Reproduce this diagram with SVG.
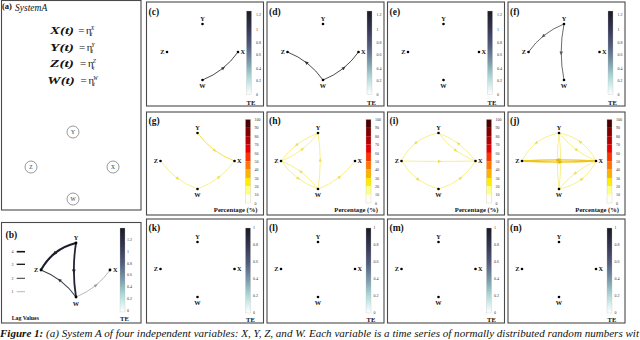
<svg xmlns="http://www.w3.org/2000/svg" xmlns:xlink="http://www.w3.org/1999/xlink" width="640" height="340" viewBox="0 0 640 340">
<style>
text{font-family:"Liberation Serif","Times New Roman",serif;fill:#111}
.frame{fill:#fff;stroke:#4a4a4a;stroke-width:1.1}
.pl{font-weight:bold;font-size:9.5px}
.nl{font-weight:bold;font-size:6.3px}
.tk{font-size:4px;fill:#333}
.te{font-weight:bold;font-size:6.6px}
.nd{fill:#000}
.ac{fill:#fff;stroke:#555;stroke-width:0.6}
.at{font-size:5.5px;fill:#333}
.eq{font-size:11px;font-weight:bold;font-style:italic}
.ed{fill:none;stroke:#383838;stroke-width:0.9;marker-mid:url(#aD)}
.ef{fill:none;stroke:#5a5a5a;stroke-width:0.9;marker-mid:url(#aF)}
.ey{fill:none;stroke:#f7ee7c;stroke-width:0.9;marker-mid:url(#aY)}
.ey2{fill:none;stroke:#f4e246;stroke-width:1;marker-mid:url(#aY)}
.eg{fill:none;stroke:#f0c416;stroke-width:1.4;marker-mid:url(#aG)}
</style>
<defs>
<linearGradient id="gTE" x1="0" y1="0" x2="0" y2="1">
<stop offset="0" stop-color="#1b1b26"/>
<stop offset="0.2" stop-color="#34344f"/>
<stop offset="0.42" stop-color="#535d7e"/>
<stop offset="0.62" stop-color="#7d9dac"/>
<stop offset="0.77" stop-color="#a8d2d2"/>
<stop offset="0.9" stop-color="#d8efef"/>
<stop offset="1" stop-color="#ffffff"/>
</linearGradient>
<marker id="aD" markerUnits="userSpaceOnUse" markerWidth="8" markerHeight="8" viewBox="-4 -4 8 8" refX="0" refY="0" orient="auto"><path d="M-0.5,-1.7 L3.5,0 L-0.5,1.7 z" fill="#333"/></marker>
<marker id="aF" markerUnits="userSpaceOnUse" markerWidth="8" markerHeight="8" viewBox="-4 -4 8 8" refX="0" refY="0" orient="auto"><path d="M-0.5,-1.7 L3.5,0 L-0.5,1.7 z" fill="#555"/></marker>
<marker id="aB" markerUnits="userSpaceOnUse" markerWidth="8" markerHeight="8" viewBox="-4 -4 8 8" refX="0" refY="0" orient="auto"><path d="M-0.5,-1.9 L3.8,0 L-0.5,1.9 z" fill="#222"/></marker>
<marker id="aL" markerUnits="userSpaceOnUse" markerWidth="8" markerHeight="8" viewBox="-4 -4 8 8" refX="0" refY="0" orient="auto"><path d="M-0.5,-1.6 L3.4,0 L-0.5,1.6 z" fill="#999"/></marker>
<marker id="aY" markerUnits="userSpaceOnUse" markerWidth="8" markerHeight="8" viewBox="-4 -4 8 8" refX="0" refY="0" orient="auto"><path d="M-0.5,-1.6 L3.2,0 L-0.5,1.6 z" fill="#eedd55"/></marker>
<marker id="aG" markerUnits="userSpaceOnUse" markerWidth="8" markerHeight="8" viewBox="-4 -4 8 8" refX="0" refY="0" orient="auto"><path d="M-0.5,-1.8 L3.4,0 L-0.5,1.8 z" fill="#e0b000"/></marker>
<g id="cbTE1">
<rect x="100" y="9" width="5" height="83.5" fill="url(#gTE)" stroke="#bbb" stroke-width="0.3"/>
<text class="tk" x="109.5" y="14.4">1.2</text>
<text class="tk" x="109.5" y="28.7">1</text>
<text class="tk" x="109.5" y="41.7">0.8</text>
<text class="tk" x="109.5" y="54.4">0.6</text>
<text class="tk" x="109.5" y="67.7">0.4</text>
<text class="tk" x="109.5" y="80.1">0.2</text>
<text class="tk" x="109.5" y="93.7">0</text>
<text class="te" x="100" y="102.5">TE</text>
</g>
<g id="cbTE3">
<rect x="99" y="9" width="5" height="85" fill="url(#gTE)" stroke="#bbb" stroke-width="0.3"/>
<text class="tk" x="106.5" y="10.4">1</text>
<text class="tk" x="106.5" y="27.4">0.8</text>
<text class="tk" x="106.5" y="44.1">0.6</text>
<text class="tk" x="106.5" y="60.7">0.4</text>
<text class="tk" x="106.5" y="78.1">0.2</text>
<text class="tk" x="106.5" y="94.7">0</text>
<text class="te" x="99.5" y="103">TE</text>
</g>
<g id="cbPct">
<rect x="99" y="7.5" width="5" height="8.35" fill="#4a0000"/>
<rect x="99" y="15.85" width="5" height="8.35" fill="#800000"/>
<rect x="99" y="24.2" width="5" height="8.35" fill="#b30000"/>
<rect x="99" y="32.55" width="5" height="8.35" fill="#e60000"/>
<rect x="99" y="40.9" width="5" height="8.35" fill="#ff3300"/>
<rect x="99" y="49.25" width="5" height="8.35" fill="#ff7700"/>
<rect x="99" y="57.6" width="5" height="8.35" fill="#ffb000"/>
<rect x="99" y="65.95" width="5" height="8.35" fill="#ffee00"/>
<rect x="99" y="74.3" width="5" height="8.35" fill="#ffff80"/>
<rect x="99" y="82.65" width="5" height="8.35" fill="#fffff2"/>
<rect x="99" y="7.5" width="5" height="83.5" fill="none" stroke="#bbb" stroke-width="0.3"/>
<text class="tk" x="108" y="9.1">100</text>
<text class="tk" x="108" y="17.4">90</text>
<text class="tk" x="108" y="25.8">80</text>
<text class="tk" x="108" y="34.1">70</text>
<text class="tk" x="108" y="42.5">60</text>
<text class="tk" x="108" y="50.8">50</text>
<text class="tk" x="108" y="59.1">40</text>
<text class="tk" x="108" y="67.5">30</text>
<text class="tk" x="108" y="75.8">20</text>
<text class="tk" x="108" y="84.2">10</text>
<text class="tk" x="108" y="92.5">0</text>
<text class="te" x="111" y="100" text-anchor="end" font-size="6.6">Percentage (%)</text>
</g>
</defs>
<rect width="640" height="340" fill="#fff"/>

<!-- Panel (a) -->
<g id="panel-a">
<rect class="frame" x="1.5" y="0.5" width="139.5" height="209.5"/>
<text x="2" y="9" font-weight="bold" font-size="8.5">(a)</text>
<text x="15" y="11.3" font-style="italic" font-size="9.5">SystemA</text>
<text class="eq" x="50" y="33.5" textLength="24" lengthAdjust="spacingAndGlyphs">X(t)</text>
<text x="78.3" y="33.5" font-size="11">=</text>
<text x="86" y="33.5" font-size="10.5">η</text>
<text x="90.8" y="29.5" font-size="5.5" font-style="italic">X</text>
<text x="90.8" y="36" font-size="5.5" font-style="italic">t</text>
<text class="eq" x="50" y="50.5" textLength="24" lengthAdjust="spacingAndGlyphs">Y(t)</text>
<text x="79" y="50.5" font-size="11">=</text>
<text x="86.7" y="50.5" font-size="10.5">η</text>
<text x="91.5" y="46.5" font-size="5.5" font-style="italic">Y</text>
<text x="91.5" y="53" font-size="5.5" font-style="italic">t</text>
<text class="eq" x="50" y="67" textLength="24" lengthAdjust="spacingAndGlyphs">Z(t)</text>
<text x="80" y="67" font-size="11">=</text>
<text x="88" y="67" font-size="10.5">η</text>
<text x="92.8" y="63" font-size="5.5" font-style="italic">Z</text>
<text x="92.8" y="69.5" font-size="5.5" font-style="italic">t</text>
<text class="eq" x="47.3" y="83.5" textLength="27.5" lengthAdjust="spacingAndGlyphs">W(t)</text>
<text x="80.5" y="83.5" font-size="11">=</text>
<text x="88.5" y="83.5" font-size="10.5">η</text>
<text x="93.3" y="79.5" font-size="5.5" font-style="italic">W</text>
<text x="93.3" y="86" font-size="5.5" font-style="italic">t</text>
<g id="a-Y"><circle class="ac" cx="73" cy="132" r="6"/><text class="at" x="73" y="134" text-anchor="middle">Y</text></g>
<g id="a-Z"><circle class="ac" cx="31" cy="167" r="6"/><text class="at" x="31" y="169" text-anchor="middle">Z</text></g>
<g id="a-X"><circle class="ac" cx="113" cy="167" r="6"/><text class="at" x="113" y="169" text-anchor="middle">X</text></g>
<g id="a-W"><circle class="ac" cx="73" cy="199" r="6"/><text class="at" x="73" y="201" text-anchor="middle">W</text></g>
</g>

<!-- Panel (b) -->
<g id="panel-b">
<rect class="frame" x="1.5" y="222.5" width="139.5" height="100.5"/>
<text class="pl" x="5.5" y="238" font-size="10">(b)</text>
<g id="b-legend">
<line x1="16.7" y1="251.7" x2="25" y2="251.7" stroke="#111" stroke-width="1.6"/>
<line x1="16.7" y1="264.3" x2="25" y2="264.3" stroke="#111" stroke-width="1.3"/>
<line x1="16.7" y1="278.3" x2="25" y2="278.3" stroke="#333" stroke-width="1"/>
<line x1="16.7" y1="291.7" x2="25" y2="291.7" stroke="#888" stroke-width="0.6"/>
<text class="tk" x="11.5" y="253.1">4</text>
<text class="tk" x="11.5" y="265.7">3</text>
<text class="tk" x="11.5" y="279.7">2</text>
<text class="tk" x="11.5" y="293.1">1</text>
<text x="11.7" y="320" font-weight="bold" font-size="5.8">Lag Values</text>
</g>
<g id="b-edges">
<path d="M76,243 Q64.3,245.9 55.55,252.65 Q46.8,259.4 41,270" fill="none" stroke="#1e1e2c" stroke-width="2.1" marker-mid="url(#aB)"/>
<path d="M76,243 Q73.85,256.5 73.85,270 Q73.85,283.5 76,297" fill="none" stroke="#252535" stroke-width="1.8" marker-mid="url(#aB)"/>
<path d="M76,297 Q69.28,287.63 60.53,280.88 Q51.78,274.13 41,270" fill="none" stroke="#3c3c4c" stroke-width="1.1" marker-mid="url(#aD)"/>
<path d="M76,297 Q86.53,292.8 95.03,286.05 Q103.53,279.3 110,270" fill="none" stroke="#9a9a9a" stroke-width="0.7" marker-mid="url(#aL)"/>
</g>
<g id="b-Y"><circle class="nd" cx="76" cy="243" r="1.4"/><text class="nl" x="76" y="239.5" text-anchor="middle">Y</text></g>
<g id="b-Z"><circle class="nd" cx="41" cy="270" r="1.4"/><text class="nl" x="38.3" y="272.4" text-anchor="end">Z</text></g>
<g id="b-X"><circle class="nd" cx="110" cy="270" r="1.4"/><text class="nl" x="113" y="272.4">X</text></g>
<g id="b-W"><circle class="nd" cx="76" cy="297" r="1.4"/><text class="nl" x="76" y="305.5" text-anchor="middle">W</text></g>
<g id="b-colorbar">
<rect x="120" y="228" width="5" height="84" fill="url(#gTE)" stroke="#bbb" stroke-width="0.3"/>
<text class="tk" x="127" y="240.8">1.2</text>
<text class="tk" x="127" y="252.6">1</text>
<text class="tk" x="127" y="264.5">0.8</text>
<text class="tk" x="127" y="276.3">0.6</text>
<text class="tk" x="127" y="288.2">0.4</text>
<text class="tk" x="127" y="300">0.2</text>
<text class="tk" x="127" y="311.9">0</text>
<text class="te" x="120" y="321">TE</text>
</g>
</g>

<!-- Row 1: (c)-(f) -->
<g id="panel-c" transform="translate(146.5,2)">
<rect class="frame" x="0" y="0" width="117" height="104"/>
<text class="pl" x="2" y="13">(c)</text>
<use xlink:href="#cbTE1"/>
<g id="c-edges"><path class="ed" d="M56,78 Q66.98,73.67 75.85,66.67 Q84.73,59.67 91.5,50"/></g>
<g id="c-Y"><circle class="nd" cx="56" cy="22" r="1.3"/><text class="nl" x="56" y="19" text-anchor="middle">Y</text></g>
<g id="c-Z"><circle class="nd" cx="20.5" cy="50" r="1.3"/><text class="nl" x="18" y="52.3" text-anchor="end">Z</text></g>
<g id="c-X"><circle class="nd" cx="91.5" cy="50" r="1.3"/><text class="nl" x="94" y="52.3">X</text></g>
<g id="c-W"><circle class="nd" cx="56" cy="78" r="1.3"/><text class="nl" x="56" y="86" text-anchor="middle">W</text></g>
</g>
<g id="panel-d" transform="translate(267,2)">
<rect class="frame" x="0" y="0" width="117" height="104"/>
<text class="pl" x="2" y="13">(d)</text>
<use xlink:href="#cbTE1"/>
<g id="d-edges">
<path class="ed" d="M56,78 Q49.23,68.33 40.35,61.33 Q31.48,54.33 20.5,50"/>
<path class="ed" d="M56,78 Q66.98,73.67 75.85,66.67 Q84.73,59.67 91.5,50"/>
</g>
<g id="d-Y"><circle class="nd" cx="56" cy="22" r="1.3"/><text class="nl" x="56" y="19" text-anchor="middle">Y</text></g>
<g id="d-Z"><circle class="nd" cx="20.5" cy="50" r="1.3"/><text class="nl" x="18" y="52.3" text-anchor="end">Z</text></g>
<g id="d-X"><circle class="nd" cx="91.5" cy="50" r="1.3"/><text class="nl" x="94" y="52.3">X</text></g>
<g id="d-W"><circle class="nd" cx="56" cy="78" r="1.3"/><text class="nl" x="56" y="86" text-anchor="middle">W</text></g>
</g>
<g id="panel-e" transform="translate(387.5,2)">
<rect class="frame" x="0" y="0" width="117" height="104"/>
<text class="pl" x="2" y="13">(e)</text>
<use xlink:href="#cbTE1"/>
<g id="e-Y"><circle class="nd" cx="56" cy="22" r="1.3"/><text class="nl" x="56" y="19" text-anchor="middle">Y</text></g>
<g id="e-Z"><circle class="nd" cx="20.5" cy="50" r="1.3"/><text class="nl" x="18" y="52.3" text-anchor="end">Z</text></g>
<g id="e-X"><circle class="nd" cx="91.5" cy="50" r="1.3"/><text class="nl" x="94" y="52.3">X</text></g>
<g id="e-W"><circle class="nd" cx="56" cy="78" r="1.3"/><text class="nl" x="56" y="86" text-anchor="middle">W</text></g>
</g>
<g id="panel-f" transform="translate(508,2)">
<rect class="frame" x="0" y="0" width="117" height="104"/>
<text class="pl" x="2" y="13">(f)</text>
<use xlink:href="#cbTE1"/>
<g id="f-edges">
<path class="ef" d="M56,22 Q45.03,26.33 36.15,33.33 Q27.28,40.33 20.5,50"/>
<path class="ef" d="M56,22 Q53.2,36 53.2,50 Q53.2,64 56,78"/>
</g>
<g id="f-Y"><circle class="nd" cx="56" cy="22" r="1.3"/><text class="nl" x="56" y="19" text-anchor="middle">Y</text></g>
<g id="f-Z"><circle class="nd" cx="20.5" cy="50" r="1.3"/><text class="nl" x="18" y="52.3" text-anchor="end">Z</text></g>
<g id="f-X"><circle class="nd" cx="91.5" cy="50" r="1.3"/><text class="nl" x="94" y="52.3">X</text></g>
<g id="f-W"><circle class="nd" cx="56" cy="78" r="1.3"/><text class="nl" x="56" y="86" text-anchor="middle">W</text></g>
</g>

<!-- Row 2: (g)-(j) -->
<g id="panel-g" transform="translate(146.5,112)">
<rect class="frame" x="0" y="0" width="117" height="103"/>
<text class="pl" x="2" y="11.5">(g)</text>
<use xlink:href="#cbPct"/>
<g id="g-edges">
<path class="ey2" d="M51,21 Q58.15,30.78 67.4,37.78 Q76.65,44.78 88,49"/>
<path class="ey" d="M14,49 Q21.15,58.78 30.4,65.78 Q39.65,72.78 51,77"/>
<path class="ey" d="M51,77 Q62.35,72.78 71.6,65.78 Q80.85,58.78 88,49"/>
</g>
<g id="g-Y"><circle class="nd" cx="51" cy="21" r="1.3"/><text class="nl" x="51" y="18" text-anchor="middle">Y</text></g>
<g id="g-Z"><circle class="nd" cx="14" cy="49" r="1.3"/><text class="nl" x="11.5" y="51.3" text-anchor="end">Z</text></g>
<g id="g-X"><circle class="nd" cx="88" cy="49" r="1.3"/><text class="nl" x="90.5" y="51.3">X</text></g>
<g id="g-W"><circle class="nd" cx="51" cy="77" r="1.3"/><text class="nl" x="51" y="85" text-anchor="middle">W</text></g>
</g>
<g id="panel-h" transform="translate(267,112)">
<rect class="frame" x="0" y="0" width="117" height="103"/>
<text class="pl" x="2" y="11.5">(h)</text>
<use xlink:href="#cbPct"/>
<g id="h-edges">
<path class="ey" d="M51,21 Q39.65,25.23 30.4,32.23 Q21.15,39.23 14,49"/>
<path class="ey" d="M14,49 Q25.35,44.78 34.6,37.78 Q43.85,30.78 51,21"/>
<path class="ey" d="M14,49 Q21.15,58.78 30.4,65.78 Q39.65,72.78 51,77"/>
<path class="ey" d="M51,77 Q43.85,67.23 34.6,60.23 Q25.35,53.23 14,49"/>
<path class="ey" d="M51,77 Q53.24,63 53.24,49 Q53.24,35 51,21"/>
<path class="ey" d="M51,77 Q62.35,72.78 71.6,65.78 Q80.85,58.78 88,49"/>
</g>
<g id="h-Y"><circle class="nd" cx="51" cy="21" r="1.3"/><text class="nl" x="51" y="18" text-anchor="middle">Y</text></g>
<g id="h-Z"><circle class="nd" cx="14" cy="49" r="1.3"/><text class="nl" x="11.5" y="51.3" text-anchor="end">Z</text></g>
<g id="h-X"><circle class="nd" cx="88" cy="49" r="1.3"/><text class="nl" x="90.5" y="51.3">X</text></g>
<g id="h-W"><circle class="nd" cx="51" cy="77" r="1.3"/><text class="nl" x="51" y="85" text-anchor="middle">W</text></g>
</g>
<g id="panel-i" transform="translate(387.5,112)">
<rect class="frame" x="0" y="0" width="117" height="103"/>
<text class="pl" x="2" y="11.5">(i)</text>
<use xlink:href="#cbPct"/>
<g id="i-edges">
<path class="ey" d="M51,21 Q38.25,23.38 29,30.38 Q19.75,37.38 14,49"/>
<path class="ey" d="M51,21 Q58.15,30.78 67.4,37.78 Q76.65,44.78 88,49"/>
<path class="ey" d="M88,49 Q80.85,39.23 71.6,32.23 Q62.35,25.23 51,21"/>
<path class="ey" d="M14,49 Q32.5,49.4 51,49.4 Q69.5,49.4 88,49"/>
<path class="ey" d="M14,49 Q20.45,59.7 29.7,66.7 Q38.95,73.7 51,77"/>
<path class="ey" d="M51,77 Q63.05,73.7 72.3,66.7 Q81.55,59.7 88,49"/>
</g>
<g id="i-Y"><circle class="nd" cx="51" cy="21" r="1.3"/><text class="nl" x="51" y="18" text-anchor="middle">Y</text></g>
<g id="i-Z"><circle class="nd" cx="14" cy="49" r="1.3"/><text class="nl" x="11.5" y="51.3" text-anchor="end">Z</text></g>
<g id="i-X"><circle class="nd" cx="88" cy="49" r="1.3"/><text class="nl" x="90.5" y="51.3">X</text></g>
<g id="i-W"><circle class="nd" cx="51" cy="77" r="1.3"/><text class="nl" x="51" y="85" text-anchor="middle">W</text></g>
</g>
<g id="panel-j" transform="translate(508,112)">
<rect class="frame" x="0" y="0" width="117" height="103"/>
<text class="pl" x="2" y="11.5">(j)</text>
<use xlink:href="#cbPct"/>
<g id="j-edges">
<path class="ey" d="M51,21 Q38.25,23.38 29,30.38 Q19.75,37.38 14,49"/>
<path class="ey" d="M88,49 Q82.25,37.38 73,30.38 Q63.75,23.38 51,21"/>
<path class="ey" d="M51,21 Q58.57,30.22 67.82,37.22 Q77.07,44.22 88,49"/>
<path class="ey" d="M51,21 Q49.32,35 49.32,49 Q49.32,63 51,77"/>
<path class="ey" d="M51,77 Q52.68,63 52.68,49 Q52.68,35 51,21"/>
<path class="eg" d="M14,49 Q32.5,50.1 51,50.1 Q69.5,50.1 88,49"/>
<path class="eg" d="M88,49 Q69.5,47.9 51,47.9 Q32.5,47.9 14,49"/>
<path class="ey" d="M51,77 Q63.75,74.63 73,67.63 Q82.25,60.63 88,49"/>
<path class="ey" d="M88,49 Q77.07,53.78 67.82,60.78 Q58.57,67.78 51,77"/>
</g>
<g id="j-Y"><circle class="nd" cx="51" cy="21" r="1.3"/><text class="nl" x="51" y="18" text-anchor="middle">Y</text></g>
<g id="j-Z"><circle class="nd" cx="14" cy="49" r="1.3"/><text class="nl" x="11.5" y="51.3" text-anchor="end">Z</text></g>
<g id="j-X"><circle class="nd" cx="88" cy="49" r="1.3"/><text class="nl" x="90.5" y="51.3">X</text></g>
<g id="j-W"><circle class="nd" cx="51" cy="77" r="1.3"/><text class="nl" x="51" y="85" text-anchor="middle">W</text></g>
</g>

<!-- Row 3: (k)-(n) -->
<g id="panel-k" transform="translate(146.5,219)">
<rect class="frame" x="0" y="0" width="117" height="104"/>
<text class="pl" x="2" y="11.5">(k)</text>
<use xlink:href="#cbTE3"/>
<g id="k-Y"><circle class="nd" cx="51" cy="23" r="1.3"/><text class="nl" x="51" y="20" text-anchor="middle">Y</text></g>
<g id="k-Z"><circle class="nd" cx="14" cy="50" r="1.3"/><text class="nl" x="11.5" y="52.3" text-anchor="end">Z</text></g>
<g id="k-X"><circle class="nd" cx="88" cy="50" r="1.3"/><text class="nl" x="90.5" y="52.3">X</text></g>
<g id="k-W"><circle class="nd" cx="51" cy="78" r="1.3"/><text class="nl" x="51" y="86" text-anchor="middle">W</text></g>
</g>
<g id="panel-l" transform="translate(267,219)">
<rect class="frame" x="0" y="0" width="117" height="104"/>
<text class="pl" x="2" y="11.5">(l)</text>
<use xlink:href="#cbTE3"/>
<g id="l-Y"><circle class="nd" cx="51" cy="23" r="1.3"/><text class="nl" x="51" y="20" text-anchor="middle">Y</text></g>
<g id="l-Z"><circle class="nd" cx="14" cy="50" r="1.3"/><text class="nl" x="11.5" y="52.3" text-anchor="end">Z</text></g>
<g id="l-X"><circle class="nd" cx="88" cy="50" r="1.3"/><text class="nl" x="90.5" y="52.3">X</text></g>
<g id="l-W"><circle class="nd" cx="51" cy="78" r="1.3"/><text class="nl" x="51" y="86" text-anchor="middle">W</text></g>
</g>
<g id="panel-m" transform="translate(387.5,219)">
<rect class="frame" x="0" y="0" width="117" height="104"/>
<text class="pl" x="2" y="11.5">(m)</text>
<use xlink:href="#cbTE3"/>
<g id="m-Y"><circle class="nd" cx="51" cy="23" r="1.3"/><text class="nl" x="51" y="20" text-anchor="middle">Y</text></g>
<g id="m-Z"><circle class="nd" cx="14" cy="50" r="1.3"/><text class="nl" x="11.5" y="52.3" text-anchor="end">Z</text></g>
<g id="m-X"><circle class="nd" cx="88" cy="50" r="1.3"/><text class="nl" x="90.5" y="52.3">X</text></g>
<g id="m-W"><circle class="nd" cx="51" cy="78" r="1.3"/><text class="nl" x="51" y="86" text-anchor="middle">W</text></g>
</g>
<g id="panel-n" transform="translate(508,219)">
<rect class="frame" x="0" y="0" width="117" height="104"/>
<text class="pl" x="2" y="11.5">(n)</text>
<use xlink:href="#cbTE3"/>
<g id="n-Y"><circle class="nd" cx="51" cy="23" r="1.3"/><text class="nl" x="51" y="20" text-anchor="middle">Y</text></g>
<g id="n-Z"><circle class="nd" cx="14" cy="50" r="1.3"/><text class="nl" x="11.5" y="52.3" text-anchor="end">Z</text></g>
<g id="n-X"><circle class="nd" cx="88" cy="50" r="1.3"/><text class="nl" x="90.5" y="52.3">X</text></g>
<g id="n-W"><circle class="nd" cx="51" cy="78" r="1.3"/><text class="nl" x="51" y="86" text-anchor="middle">W</text></g>
</g>

<text id="caption" x="0" y="336.5" font-size="10" font-style="italic" textLength="639" lengthAdjust="spacingAndGlyphs"><tspan font-weight="bold">Figure 1:</tspan> (a) System A of four independent variables: X, Y, Z, and W. Each variable is a time series of normally distributed random numbers wit</text>
</svg>
